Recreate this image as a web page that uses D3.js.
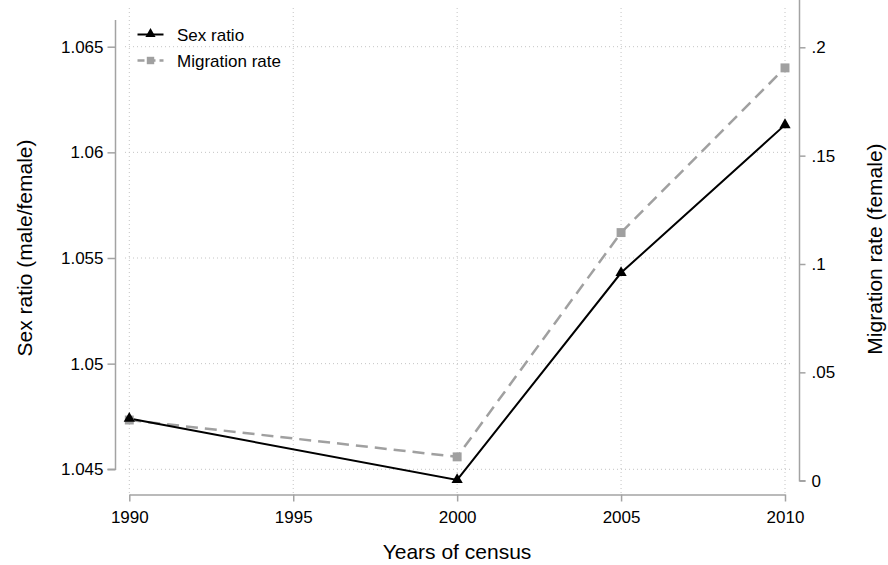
<!DOCTYPE html>
<html>
<head>
<meta charset="utf-8">
<script src="https://cdn.jsdelivr.net/npm/d3@7"></script>
<style>
  body { margin: 0; background: #fff; }
  svg { font-family: "Liberation Sans", Arial, sans-serif; }
</style>
</head>
<body>
<script>
// data
var years = [1990, 2000, 2005, 2010];
var sexRatio = [1.0474, 1.0445, 1.0543, 1.0613];
var migration = [0.028, 0.011, 0.1145, 0.1905];
var xTicks = [1990, 1995, 2000, 2005, 2010];
var leftTicks = [1.045, 1.05, 1.055, 1.06, 1.065];
var rightTicks = [0, 0.05, 0.1, 0.15, 0.2];

var W = 888, H = 565;

// scales
var x = d3.scaleLinear().domain([1990, 2010]).range([129.3, 785]);
var yL = d3.scaleLinear().domain([1.045, 1.065]).range([469.3, 46.7]);
var yR = d3.scaleLinear().domain([0, 0.2]).range([480.7, 47.3]);

var svg = d3.select("body").append("svg")
    .attr("width", W)
    .attr("height", H);

var grid = "#c4c4c4", axisCol = "#a3a3a3";

// gridlines
svg.append("g").selectAll("line")
    .data(leftTicks)
  .enter().append("line")
    .attr("x1", 125).attr("x2", 790)
    .attr("y1", function(d) { return yL(d); })
    .attr("y2", function(d) { return yL(d); })
    .attr("stroke", grid).attr("stroke-width", 1)
    .attr("stroke-dasharray", "1,3");

svg.append("g").selectAll("line")
    .data(xTicks)
  .enter().append("line")
    .attr("y1", 8).attr("y2", 494)
    .attr("x1", function(d) { return x(d); })
    .attr("x2", function(d) { return x(d); })
    .attr("stroke", grid).attr("stroke-width", 1)
    .attr("stroke-dasharray", "1,3");

function styleAxis(g) {
  g.select(".domain").attr("stroke", axisCol).attr("stroke-width", 1.5);
  g.selectAll(".tick line").attr("stroke", axisCol).attr("stroke-width", 1.5);
  g.selectAll(".tick text").attr("fill", "#000").style("font-size", "17px");
}

// left axis
var gl = svg.append("g")
    .attr("transform", "translate(115.5,0)")
    .call(d3.axisLeft(yL).tickValues(leftTicks).tickSize(8).tickSizeOuter(0)
      .tickFormat(function(d) { return d3.format("")(+d.toFixed(3)); }));
gl.select(".domain").attr("d", "M0,20V" + yL(1.045) + "H-8");
styleAxis(gl);
gl.selectAll(".tick text").attr("x", -12);

// right axis
var gr = svg.append("g")
    .attr("transform", "translate(799.5,0)")
    .call(d3.axisRight(yR).tickValues(rightTicks).tickSize(6).tickSizeOuter(0)
      .tickFormat(function(d) { return d === 0 ? "0" : d3.format("")(+d.toFixed(2)).replace(/^0/, ""); }));
gr.select(".domain").attr("d", "M0,0V" + yR(0) + "H6");
styleAxis(gr);
gr.selectAll(".tick text").attr("x", 12);

// bottom axis
var gb = svg.append("g")
    .attr("transform", "translate(0,494.5)")
    .call(d3.axisBottom(x).tickValues(xTicks).tickSize(7).tickSizeOuter(0)
      .tickFormat(d3.format("d")));
styleAxis(gb);
gb.selectAll(".tick text").attr("y", 16);

// axis titles
svg.append("text")
    .attr("transform", "translate(32,248) rotate(-90)")
    .attr("text-anchor", "middle")
    .style("font-size", "21px")
    .text("Sex ratio (male/female)");
svg.append("text")
    .attr("transform", "translate(882,249) rotate(-90)")
    .attr("text-anchor", "middle")
    .style("font-size", "21px")
    .text("Migration rate (female)");
svg.append("text")
    .attr("x", 457).attr("y", 559)
    .attr("text-anchor", "middle")
    .style("font-size", "21px")
    .text("Years of census");

// lines
var migLine = d3.line()
    .x(function(d, i) { return x(years[i]); })
    .y(function(d) { return yR(d); });
var sexLine = d3.line()
    .x(function(d, i) { return x(years[i]); })
    .y(function(d) { return yL(d); });

svg.append("path")
    .datum(migration)
    .attr("d", migLine)
    .attr("fill", "none")
    .attr("stroke", "#a0a0a0")
    .attr("stroke-width", 2.5)
    .attr("stroke-dasharray", "12,7");

svg.append("path")
    .datum(sexRatio)
    .attr("d", sexLine)
    .attr("fill", "none")
    .attr("stroke", "#000")
    .attr("stroke-width", 2);

var sq = d3.symbol().type(d3.symbolSquare).size(80);
var tri = d3.symbol().type(d3.symbolTriangle).size(55);

svg.append("g").selectAll("path")
    .data(migration)
  .enter().append("path")
    .attr("d", sq)
    .attr("transform", function(d, i) { return "translate(" + x(years[i]) + "," + yR(d) + ")"; })
    .attr("fill", "#a0a0a0");

svg.append("g").selectAll("path")
    .data(sexRatio)
  .enter().append("path")
    .attr("d", tri)
    .attr("transform", function(d, i) { return "translate(" + x(years[i]) + "," + yL(d) + ")"; })
    .attr("fill", "#000");

// legend
var legend = svg.append("g");
legend.append("line")
    .attr("x1", 137.5).attr("x2", 163.5).attr("y1", 34.5).attr("y2", 34.5)
    .attr("stroke", "#000").attr("stroke-width", 2);
legend.append("path").attr("d", d3.symbol().type(d3.symbolTriangle).size(45))
    .attr("transform", "translate(150.5,34)").attr("fill", "#000");
legend.append("line")
    .attr("x1", 137.5).attr("x2", 163.5).attr("y1", 60.5).attr("y2", 60.5)
    .attr("stroke", "#a0a0a0").attr("stroke-width", 2.5)
    .attr("stroke-dasharray", "7,4");
legend.append("path").attr("d", d3.symbol().type(d3.symbolSquare).size(55))
    .attr("transform", "translate(150.5,60.5)").attr("fill", "#a0a0a0");
legend.append("text").attr("x", 177).attr("y", 40.5)
    .style("font-size", "17px").text("Sex ratio");
legend.append("text").attr("x", 177).attr("y", 66.5)
    .style("font-size", "17px").text("Migration rate");
</script>
</body>
</html>
